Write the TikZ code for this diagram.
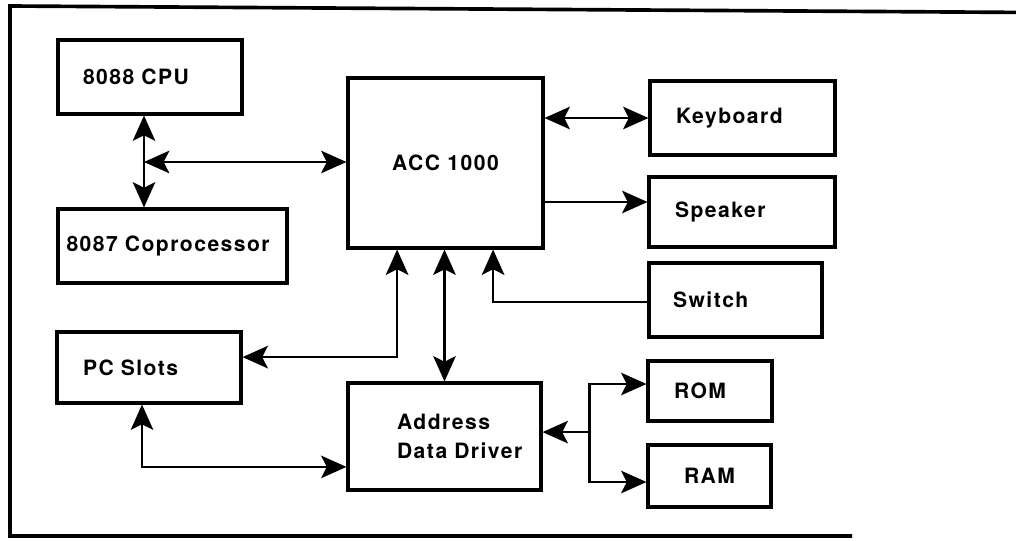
\documentclass[tikz,border=0pt]{standalone}
\usepackage{fontspec}
\usepackage{tikz}
\usetikzlibrary{arrows.meta, positioning, calc}
\newfontfamily\blkfont{TeX Gyre Heros}[LetterSpace=7]

\begin{document}
\begin{tikzpicture}[
  >={Stealth[length=18pt, width=16pt, inset=4pt]},
  module/.style={draw, line width=2.2pt, align=left, inner ysep=0pt, inner xsep=0.625cm,
                 minimum height=1.85cm, font=\blkfont\bfseries\fontsize{15pt}{21pt}\selectfont},
  wire/.style={line width=1.7pt},
  frame/.style={line width=2.6pt, line join=miter}
]
\useasboundingbox (0,0) rectangle (25.4,-13.5);

% outer frame
\draw[frame] (25.4,-0.31) -- (0.25,-0.15) -- (0.25,-13.4) -- (21.3,-13.4);

% left column
\node[module, text width=3.35cm] (cpu) at (3.75,-1.925) {8088 CPU};
\node[module, text width=5.3cm, inner xsep=0.2125cm] (copro) at (4.3125,-6.15) {8087 Coprocessor};
\node[module, text width=3.3cm, inner xsep=0.65cm, minimum height=1.775cm] (pc) at (3.725,-9.1875) {PC Slots};

% middle column
\node[module, minimum width=4.875cm, minimum height=4.25cm] (acc) at (11.1375,-4.075) {ACC 1000};
\node[module, text width=2.375cm, inner xsep=1.225cm, minimum height=2.675cm] (addr)
  at (11.1125,-10.9125) {Address\\\mbox{Data Driver}};

% right column
\node[module, text width=3.325cm, inner xsep=0.65cm] (kbd) at (18.5625,-2.95) {Keyboard};
\node[module, text width=3.35cm, inner xsep=0.65cm, minimum height=1.75cm] (spk) at (18.55,-5.3) {Speaker};
\node[module, text width=3.125cm, inner xsep=0.6cm] (sw) at (18.3875,-7.5) {Switch};
\node[module, text width=1.8cm, inner xsep=0.65cm, minimum height=1.5cm] (rom) at (17.75,-9.775) {ROM};
\node[module, minimum width=3.075cm, minimum height=1.55cm] (ram) at (17.7375,-11.9) {RAM};

\coordinate (bus) at (3.6,-4.05);
\coordinate (mem) at ([xshift=1.175cm, yshift=.11cm]addr.east);

\draw[wire, <->] (cpu.south -| bus) -- (copro.north -| bus);
\draw[wire, <->] (bus) -- (bus -| acc.west);
\draw[wire, <->] (acc.east |- kbd.west) -- (kbd.west);
\draw[wire, ->] ([yshift=.25cm]spk.west -| acc.east) -- ([yshift=.25cm]spk.west);
\draw[wire, ->] ([yshift=-.05cm]sw.west) -| ([xshift=1.19cm]acc.south);
\draw[wire, <->] ([xshift=-1.21cm]acc.south) |- ([yshift=.26cm]pc.east);
\draw[wire, <->] (acc.south -| addr.north) -- (addr.north);
\draw[wire, <->] ([xshift=-.175cm]pc.south) |- ([yshift=-.76cm]addr.west);
\draw[wire, ->] (mem) -- (mem -| addr.east);
\draw[wire, ->] (mem) |- ([yshift=.175cm]rom.west);
\draw[wire, ->] (mem) |- ([yshift=-.15cm]ram.west);
\end{tikzpicture}
\end{document}
